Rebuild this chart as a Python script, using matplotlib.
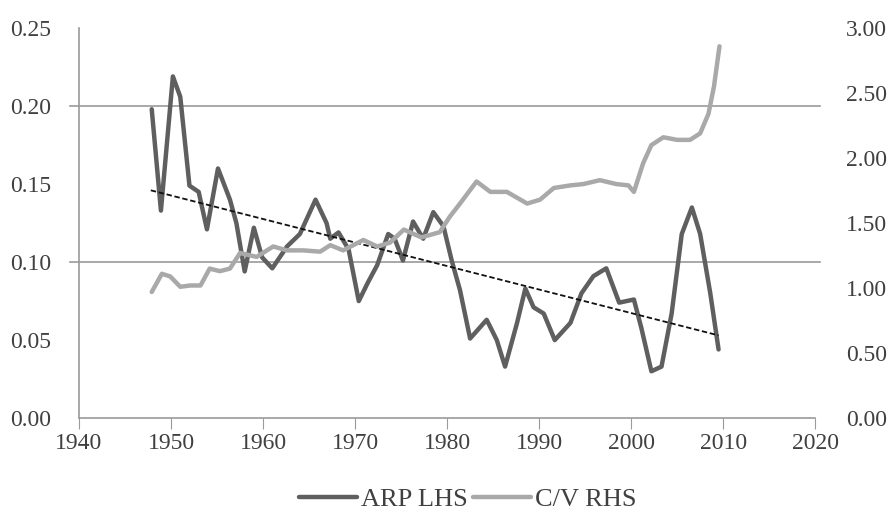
import matplotlib.pyplot as plt
import numpy as np

# ARP (left axis)
arp_years = [1947.9, 1948.9, 1950.2, 1951.0, 1952.0, 1953.0, 1953.9, 1955.1, 1956.4, 1957.1,
             1958.0, 1959.0, 1959.9, 1961.0, 1962.6, 1964.0, 1965.7, 1966.9, 1967.3, 1968.2,
             1969.3, 1970.4, 1971.4, 1972.4, 1973.6, 1974.3, 1975.2, 1976.3, 1977.4, 1978.5,
             1979.6, 1980.5, 1981.4, 1982.5, 1984.3, 1985.4, 1986.3, 1987.6, 1988.5, 1989.4,
             1990.5, 1991.7, 1993.4, 1994.6, 1995.9, 1997.3, 1998.7, 2000.3, 2001.1, 2002.2,
             2003.3, 2004.4, 2005.5, 2006.6, 2007.5, 2008.6, 2009.5]
arp = [0.198, 0.133, 0.219, 0.206, 0.149, 0.145, 0.121, 0.160, 0.140, 0.125,
       0.094, 0.122, 0.103, 0.096, 0.110, 0.118, 0.140, 0.125, 0.115, 0.119,
       0.108, 0.075, 0.087, 0.098, 0.118, 0.115, 0.101, 0.126, 0.115, 0.132,
       0.123, 0.101, 0.082, 0.051, 0.063, 0.050, 0.033, 0.061, 0.083, 0.071,
       0.067, 0.050, 0.061, 0.080, 0.091, 0.096, 0.074, 0.076, 0.058, 0.030,
       0.033, 0.067, 0.118, 0.135, 0.118, 0.080, 0.044]

# C/V (right axis)
cv_years = [1947.9, 1949.0, 1949.9, 1951.0, 1952.1, 1953.2, 1954.2, 1955.3, 1956.4, 1957.5,
            1959.3, 1961.1, 1962.6, 1964.4, 1966.2, 1967.3, 1968.7, 1970.9, 1972.4, 1973.8,
            1975.3, 1977.2, 1979.2, 1980.3, 1981.4, 1983.2, 1984.7, 1986.5, 1988.7, 1990.1,
            1991.6, 1993.4, 1994.8, 1996.6, 1998.4, 1999.7, 2000.3, 2001.3, 2002.2, 2003.5,
            2005.0, 2006.4, 2007.5, 2008.4, 2009.0, 2009.6]
cv = [0.97, 1.11, 1.09, 1.01, 1.02, 1.02, 1.15, 1.13, 1.15, 1.27,
      1.24, 1.32, 1.29, 1.29, 1.28, 1.33, 1.29, 1.37, 1.32, 1.35,
      1.45, 1.39, 1.43, 1.55, 1.65, 1.82, 1.74, 1.74, 1.65, 1.68,
      1.77, 1.79, 1.80, 1.83, 1.80, 1.79, 1.74, 1.96, 2.10, 2.16,
      2.14, 2.14, 2.19, 2.34, 2.55, 2.86]

# linear trend on ARP (end points)
trend_years = [1947.8, 2009.5]
trend = [0.146, 0.053]

plt.rcParams['font.family'] = ['Liberation Serif', 'DejaVu Serif']
txt = '#404040'

fig = plt.figure(figsize=(8.88, 5.2), dpi=100)
ax = fig.add_axes([0.089, 0.196, 0.829, 0.750])
ax2 = ax.twinx()

l1, = ax.plot(arp_years, arp, color='#5f5f5f', lw=3.2, label='ARP LHS', zorder=3,
              solid_joinstyle='round', solid_capstyle='round')
ax.plot(trend_years, trend, color='#111111', lw=1.3, ls=(0, (3, 1.5)), zorder=4)
l2, = ax2.plot(cv_years, cv, color='#a9a9a9', lw=3.2, label='C/V RHS', zorder=2,
               solid_joinstyle='round', solid_capstyle='round')

for g in [0.10, 0.20]:
    ax.axhline(g, xmin=-0.012, xmax=1.007, color='#9a9a9a', lw=1.2, clip_on=False, zorder=1)

ax.set_xlim(1940, 2020)
ax.set_ylim(0, 0.25)
ax2.set_ylim(0, 3.0)
ax.set_xticks(np.arange(1940, 2021, 10))
ax.set_yticks(np.arange(0, 0.26, 0.05))
ax.set_yticklabels(['%.2f' % v for v in np.arange(0, 0.26, 0.05)])
ax2.set_yticks(np.arange(0, 3.01, 0.5))
ax2.set_yticklabels(['%.2f' % v for v in np.arange(0, 3.01, 0.5)])

for s in ['top', 'right']:
    ax.spines[s].set_visible(False)
for s in ['top', 'right', 'left', 'bottom']:
    ax2.spines[s].set_visible(False)
ax.spines['left'].set_color('#9a9a9a')
ax.spines['bottom'].set_color('#9a9a9a')
ax.spines['left'].set_linewidth(1.2)
ax.spines['bottom'].set_linewidth(1.2)

ax.tick_params(axis='x', length=8, color='#9a9a9a', labelsize=17, labelcolor=txt, pad=3)
ax.tick_params(axis='y', length=0, labelsize=17, labelcolor=txt, pad=20)
ax2.tick_params(axis='y', length=0, labelsize=17, labelcolor=txt, pad=22)

fig.legend(handles=[l1, l2], loc='center', bbox_to_anchor=(0.527, 0.04), ncol=2,
           frameon=False, fontsize=19, handlelength=2.2, handletextpad=0.15,
           columnspacing=0.2, labelcolor=txt)

fig.savefig('out.png', dpi=100)
